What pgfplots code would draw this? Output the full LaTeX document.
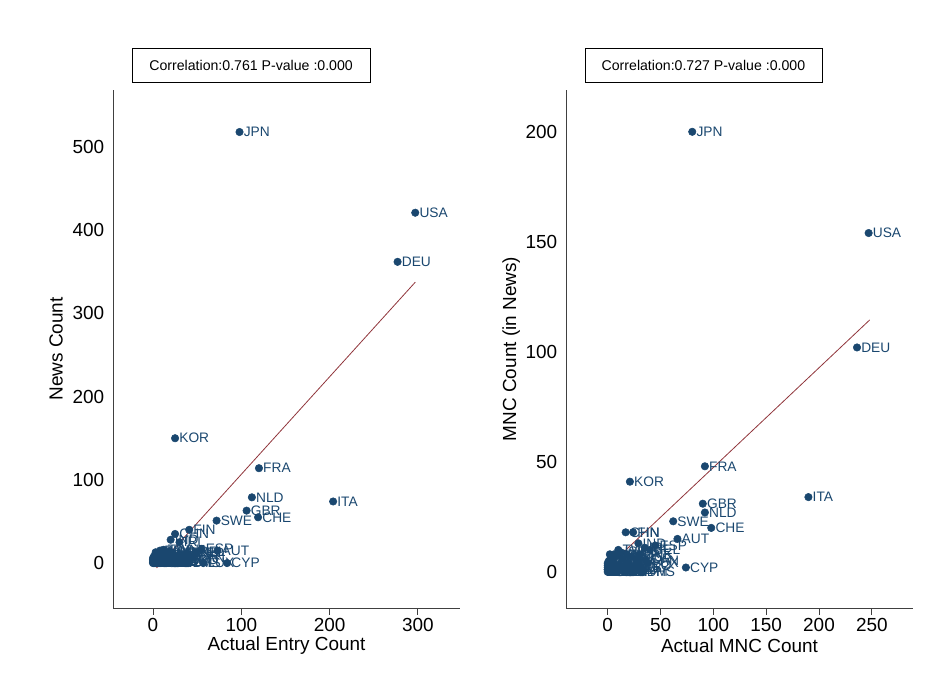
\documentclass[border=0pt]{standalone}
\usepackage{fontspec}
\setmainfont{Liberation Sans}
\usepackage{pgfplots}
\pgfplotsset{compat=1.18}
\definecolor{stnavy}{RGB}{26,71,111}
\definecolor{stmaroon}{RGB}{144,53,59}
\pgfplotsset{
  stata/.style={
    scale only axis, width=260.25pt, height=388.5pt,
    anchor=south west, clip=false,
    axis lines=left, axis line style={-, black!75, line width=0.7pt},
    tick align=outside, major tick length=5.25pt,
    x tick style={black!75, line width=0.7pt},
    y tick style={draw=none},
    /pgf/number format/assume math mode=true,
    tick label style={font=\fontsize{14.2}{16}\selectfont},
    label style={font=\fontsize{14.2}{16}\selectfont},
    yticklabel style={inner sep=0pt, xshift=-1.2pt},
    xticklabel style={inner sep=0pt, yshift=-2.5pt},
    scaled ticks=false,
    every axis y label/.style={at={(axis description cs:-0.164,0.5)}, rotate=90, anchor=center, font=\fontsize{14.2}{16}\selectfont},
    every axis x label/.style={at={(axis description cs:0.5,-0.073)}, anchor=center, font=\fontsize{14.2}{16}\selectfont},
  },
  pts/.style={only marks, mark=*, mark size=2.8pt, color=stnavy,
    mark options={fill=stnavy, draw=stnavy},
    point meta=explicit symbolic,
    nodes near coords,
    every node near coord/.append style={anchor=west, inner sep=0pt, xshift=3pt,
      text=stnavy, font=\fontsize{10.3}{12}\selectfont}},
  fit/.style={no marks, color=stmaroon, line width=0.6pt},
}
\begin{document}
\begin{tikzpicture}
\path[use as bounding box] (0,0) rectangle (701.25pt,516pt);
% ---------------- left panel ----------------
\begin{axis}[stata, at={(84.75pt,60pt)},
  xmin=-45.3, xmax=347.7, ymin=-54, ymax=568.5,
  xtick={0,100,200,300}, ytick={0,100,200,300,400,500},
  xlabel={Actual Entry Count}, ylabel={News Count}]
\addplot[fit] coordinates {(4,-5.9) (297,337.5)};
\addplot[pts] table[meta=lab] {
x y lab
98 518 JPN
297 421 USA
277 362 DEU
25 150 KOR
120 114 FRA
112 79 NLD
204 74 ITA
106 63 GBR
119 55 CHE
72 51 SWE
41 40 FIN
25 35 CHN
20 28 IND
30 25 IRL
73 15 AUT
84 0 CYP
57 0 LUX
55 17 ESP
48 13 BEL
38 12 DNK
35 8 NOR
30 10 AUS
44 6 CAN
18 14 ISR
22 12 SGP
16 9 HKG
12 16 TWN
8 15 BRA
10 11 RUS
6 7 MEX
14 5 POL
9 4 TUR
4 6 ZAF
3 3 ARG
2 2 CHL
11 3 CZE
7 2 HUN
5 5 GRC
13 4 PRT
15 2 NZL
6 9 THA
4 11 MYS
3 13 IDN
2 5 PHL
1 8 VNM
3 1 SAU
8 1 ARE
1 2 EGY
2 0 COL
1 1 PER
0 3 UKR
3 0 ROU
5 0 SVK
4 1 SVN
6 0 EST
2 1 LVA
1 0 LTU
0 1 HRV
0 0 BGR
1 3 ISL
7 0 MLT
2 4 QAT
0 2 KWT
1 5 PAK
0 6 NGA
2 7 KEN
1 0 MAR
0 4 URY
9 0 PAN
18 1 BMU
25 3 VGB
28 0 CYM
20 2 LIE
33 4 MCO
40 0 BHS
};
\node[draw=black, line width=0.6pt, minimum width=178.5pt, minimum height=25.5pt, inner sep=0pt,
  font=\fontsize{10.6}{12}\selectfont] at (axis description cs:0.398,1.048)
  {Correlation:0.761 P-value :0.000};
\end{axis}
% ---------------- right panel ----------------
\begin{axis}[stata, at={(424.5pt,60pt)},
  xmin=-39.5, xmax=289, ymin=-16.4, ymax=219,
  xtick={0,50,100,150,200,250}, ytick={0,50,100,150,200},
  xlabel={Actual MNC Count}, ylabel={MNC Count (in News)},
  every axis y label/.style={at={(axis description cs:-0.158,0.5)}, rotate=90, anchor=center, font=\fontsize{14.2}{16}\selectfont}]
\addplot[fit] coordinates {(0,2.2) (248,114.5)};
\addplot[pts] table[meta=lab] {
x y lab
80 200 JPN
247 154 USA
236 102 DEU
92 48 FRA
21 41 KOR
190 34 ITA
90 31 GBR
92 27 NLD
98 20 CHE
62 23 SWE
66 15 AUT
74 2 CYP
38 4 LUX
17 18 CHN
24 18 FIN
29 13 IND
35 11 IRL
45 12 ESP
40 10 BEL
30 8 DNK
28 6 NOR
22 7 AUS
36 5 CAN
12 9 ISR
18 8 SGP
14 6 HKG
10 10 TWN
6 8 BRA
8 7 RUS
5 5 MEX
11 3 POL
7 3 TUR
3 4 ZAF
3 2 ARG
2 1 CHL
9 2 CZE
6 1 HUN
4 3 GRC
12 2 PRT
13 1 NZL
5 6 THA
3 7 MYS
2 8 IDN
2 3 PHL
1 5 VNM
3 1 SAU
7 1 ARE
1 1 EGY
2 0 COL
1 0 PER
0 2 UKR
3 0 ROU
4 0 SVK
4 1 SVN
5 0 EST
2 1 LVA
1 0 LTU
0 1 HRV
0 0 BGR
1 2 ISL
6 0 MLT
2 2 QAT
0 1 KWT
1 3 PAK
0 4 NGA
2 4 KEN
1 0 MAR
0 3 URY
8 0 PAN
15 1 BMU
20 2 VGB
24 0 CYM
17 1 LIE
26 3 MCO
33 0 BHS
};
\node[draw=black, line width=0.6pt, minimum width=177.75pt, minimum height=25.5pt, inner sep=0pt,
  font=\fontsize{10.6}{12}\selectfont] at (axis description cs:0.396,1.048)
  {Correlation:0.727 P-value :0.000};
\end{axis}
\end{tikzpicture}
\end{document}
